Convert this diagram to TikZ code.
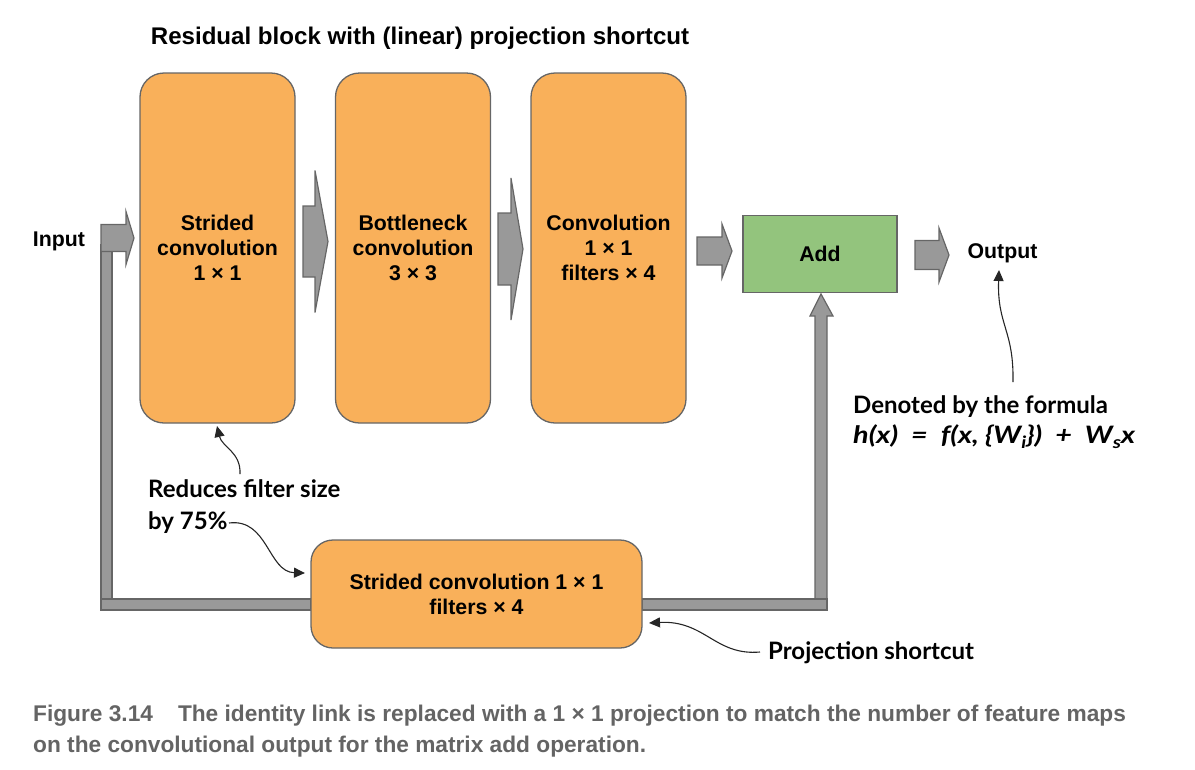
\documentclass[tikz,border=0pt]{standalone}
\usepackage{fontspec}
\setmainfont{Liberation Sans}
\newfontfamily\annfont{Lato}
\newfontfamily\capfont{Liberation Sans}
\usetikzlibrary{calc,arrows.meta}
\definecolor{boxorange}{RGB}{249,176,90}
\definecolor{boxgreen}{RGB}{147,196,125}
\definecolor{edgegray}{RGB}{102,102,102}
\definecolor{arrowgray}{RGB}{153,153,153}
\definecolor{capgray}{RGB}{100,100,100}
\newcommand{\blockarr}[5]{%
  \draw[blockarrow] let \p1=(#1), \p2=(#2) in
    (\x1,\y1+#3) -- (\x2-#5,\y1+#3) -- (\x2-#5,\y1+#4) -- (\x2,\y1)
    -- (\x2-#5,\y1-#4) -- (\x2-#5,\y1-#3) -- (\x1,\y1-#3) -- cycle;}
\newcommand{\lowsub}[1]{\raisebox{-0.45ex}{\fontsize{17}{17}\selectfont #1}}
\begin{document}
\begin{tikzpicture}[x=1pt,y=-1pt,
  convbox/.style={draw=edgegray, line width=1.3pt, fill=boxorange, rounded corners=24pt,
    minimum width=155pt, minimum height=350pt, align=center,
    font=\bfseries\fontsize{21.3}{25}\selectfont},
  addbox/.style={draw=edgegray, line width=1.3pt, fill=boxgreen,
    minimum width=154pt, minimum height=77pt, font=\bfseries\fontsize{21.3}{25}\selectfont},
  projbox/.style={draw=edgegray, line width=1.3pt, fill=boxorange, rounded corners=22pt,
    minimum width=331pt, minimum height=108pt, align=center,
    font=\bfseries\fontsize{21.3}{25}\selectfont},
  lbl/.style={font=\bfseries\fontsize{21.3}{25}\selectfont, inner sep=0pt},
  ttl/.style={font=\bfseries\fontsize{24.1}{28}\selectfont, inner sep=0pt},
  ann/.style={font=\annfont\bfseries\fontsize{24}{28}\selectfont, inner sep=0pt, anchor=base west},
  captext/.style={font=\capfont\bfseries\fontsize{22.7}{30}\selectfont, text=capgray, inner sep=0pt, anchor=base west},
  blockarrow/.style={fill=arrowgray, draw=edgegray, line width=1.2pt, line join=miter},
  bar/.style={fill=arrowgray, draw=edgegray, line width=1.2pt},
  annarrow/.style={draw=black!85, line width=1.1pt, -{Triangle[length=11pt,width=10pt]}}
]
\useasboundingbox (0,0) rectangle (1195,769);

% title
\node[ttl] (title) at (420,38) {Residual block with (linear) projection shortcut};

% shortcut bars (drawn first)
\draw[bar] (101,245) rectangle (112,610);
\draw[bar] (101,599) rectangle (311,610);
\draw[blockarrow] (815,602) -- (815,316) -- (810,316) -- (821,294) -- (833,316) -- (827,316) -- (827,602) -- cycle;
\draw[bar] (642,599) rectangle (827,610);

% boxes
\node[convbox] (b1) at (217.5,248) {Strided\\convolution\\1 × 1};
\node[convbox] (b2) at (413,248) {Bottleneck\\convolution\\3 × 3};
\node[convbox] (b3) at (608.5,248) {Convolution\\1 × 1\\filters × 4};
\node[addbox] (add) at (820,254) {Add};
\node[projbox] (bot) at (476.5,594) {Strided convolution 1 × 1\\filters × 4};

\node[lbl] (inp) at (59,241) {Input};
\node[lbl] (outp) at (1002.5,253) {Output};

% block arrows
\coordinate (a0s) at (101,238);   \coordinate (a0e) at (134,238);
\coordinate (a1s) at (303,241.5); \coordinate (a1e) at (328,241.5);
\coordinate (a2s) at (498,249);   \coordinate (a2e) at (523,249);
\coordinate (a3s) at (697,251);   \coordinate (a3e) at (732,251);
\coordinate (a4s) at (915,255);   \coordinate (a4e) at (949,255);
\blockarr{a0s}{a0e}{13.5pt}{26.5pt}{8pt}
\blockarr{a1s}{a1e}{35.5pt}{71pt}{13pt}
\blockarr{a2s}{a2e}{36pt}{71pt}{12pt}
\blockarr{a3s}{a3e}{14pt}{27pt}{10pt}
\blockarr{a4s}{a4e}{14.5pt}{27pt}{10pt}

% annotations
\node[ann] (red1) at (148,497) {Reduces filter size};
\node[ann] (red2) at (148,529) {by 75\%};
\node[ann] (den1) at (853,413) {Denoted by the formula};
\node[ann] (den2) at (853,443) {\scalebox{1.2}[1]{\itshape h(x)\hspace{0.45em}=\hspace{0.45em}f(x, \{W\lowsub{i}\})\hspace{0.45em}+\hspace{0.45em}W\lowsub{s}x}};
\node[ann] (proj) at (768,659) {Projection shortcut};

\coordinate (t1s) at (240,474);  \coordinate (t1e) at (217,426);
\coordinate (t2s) at (229,523);  \coordinate (t2e) at (305,573);
\coordinate (t3s) at (1013,382); \coordinate (t3e) at (999,270);
\coordinate (t4s) at (760,652);  \coordinate (t4e) at (649,623);
\draw[annarrow] (t1s) .. controls (241,452) and (222,447) .. (t1e);
\draw[annarrow] (t2s) .. controls (268,518) and (268,572) .. (t2e);
\draw[annarrow] (t3s) .. controls (1014,330) and (997,325) .. (t3e);
\draw[annarrow] (t4s) .. controls (715,656) and (705,620) .. (t4e);

% caption
\node[captext] (cap1) at (33,721) {Figure 3.14\hspace{1.1em}The identity link is replaced with a 1 × 1 projection to match the number of feature maps};
\node[captext] (cap2) at (33,752) {on the convolutional output for the matrix add operation.};
\end{tikzpicture}
\end{document}
